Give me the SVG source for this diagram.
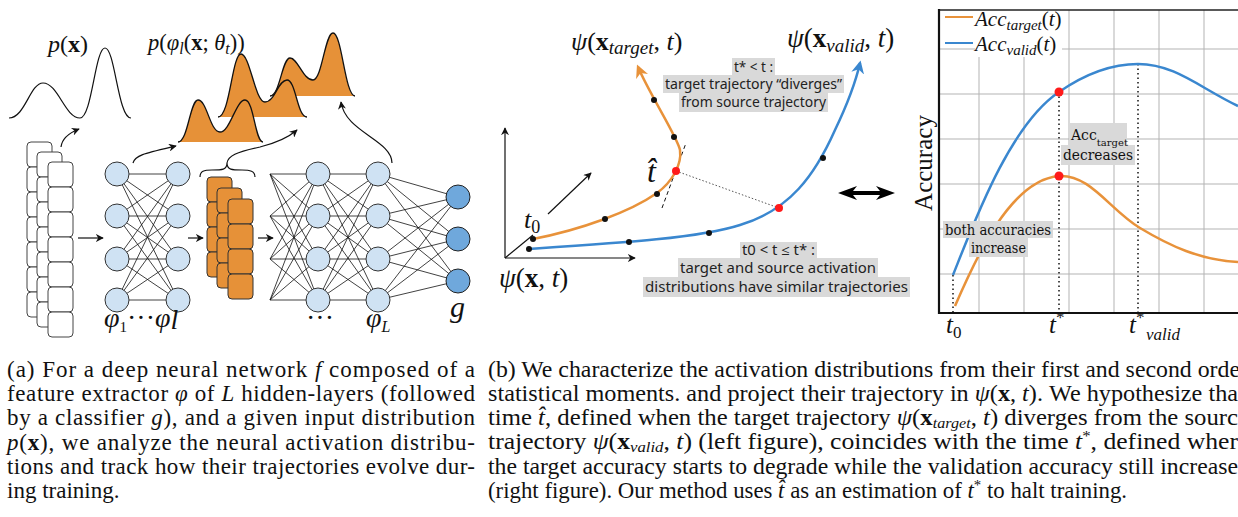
<svg xmlns="http://www.w3.org/2000/svg" width="1238" height="517" viewBox="0 0 1238 517" font-family="Liberation Serif, Times New Roman, serif">
<style>
.m{fill:#111;}
.it{font-style:italic;}
.bf{font-weight:bold;font-style:normal;}
.cap{font-size:23px;fill:#111;}
.lbl{font-size:13.5px;fill:#222;}
.clbl{font-size:14px;fill:#111;}
.gbox{fill:#d9d9d9;}
.node{fill:#cfe2f3;stroke:#333;stroke-width:1;}
.out{fill:#6fa8dc;stroke:#222;stroke-width:1;}
.edge{stroke:#111;stroke-width:0.8;fill:none;}
.cell{fill:#fff;stroke:#444;stroke-width:1;}
.ocell{fill:#E69138;stroke:#333;stroke-width:1;}
.dist{fill:#E69138;stroke:#111;stroke-width:1.3;}
.grid{stroke:#b3b3b3;stroke-width:1;fill:none;}
.dot{fill:#111;}
.red{fill:#ff1a1a;}
.ln{fill:none;stroke:#111;stroke-width:1.2;}
.orng{fill:none;stroke:#E8923A;stroke-width:2.5;}
.blu{fill:none;stroke:#3A87CF;stroke-width:2.5;}
.dotted{fill:none;stroke:#111;stroke-width:1.5;stroke-dasharray:1.5 3;}
</style>
<defs>
<marker id="mk" viewBox="0 0 10 10" refX="9" refY="5" markerWidth="8" markerHeight="8" orient="auto" markerUnits="userSpaceOnUse"><path d="M0,0 L10,5 L0,10 L3,5 Z" fill="#111"/></marker>
<marker id="mo" viewBox="0 0 10 10" refX="8" refY="5" markerWidth="13" markerHeight="13" orient="auto" markerUnits="userSpaceOnUse"><path d="M0,0 L10,5 L0,10 L3,5 Z" fill="#E8923A"/></marker>
<marker id="mb" viewBox="0 0 10 10" refX="8" refY="5" markerWidth="13" markerHeight="13" orient="auto" markerUnits="userSpaceOnUse"><path d="M0,0 L10,5 L0,10 L3,5 Z" fill="#3A87CF"/></marker>
</defs>

<!-- ============ LEFT PANEL ============ -->
<g id="px-curve">
<path class="ln" d="M9,118 C25,118 30,83 43,83 C58,83 65,118 80,118 C92,118 95,48 105,48 C115,48 118,118 131,118"/>
<text class="m" x="48" y="52" font-size="24" font-family="Liberation Serif"><tspan class="it">p</tspan>(<tspan class="bf">x</tspan>)</text>
</g>

<g id="activation-dists">
<path class="dist" d="M270,96 C280,96 282,58 290,58 C298,58 303,80 313,80 C322,80 325,33 333,33 C342,33 345,96 355,96"/>
<path class="dist" d="M218,117 C230,117 232,54 241,54 C250,54 255,102 265,102 C275,102 278,80 287,80 C296,80 297,117 307,117"/>
<path class="dist" d="M178,142 C188,142 190,100 198,100 C207,100 210,132 220,132 C230,132 236,100 245,100 C254,100 255,142 263,142"/>
<text class="m" x="148" y="50" font-size="22.5" font-family="Liberation Serif"><tspan class="it">p</tspan>(<tspan class="it">φ</tspan><tspan class="it" font-size="16" dy="4">l</tspan><tspan dy="-4">(</tspan><tspan class="bf">x</tspan>; <tspan class="it">θ</tspan><tspan class="it" font-size="16" dy="4">t</tspan><tspan dy="-4">))</tspan></text>
</g>

<g id="input-stack">
<rect class="cell" x="27" y="142" width="25" height="25" rx="4"/>
<rect class="cell" x="27" y="167" width="25" height="25" rx="4"/>
<rect class="cell" x="27" y="192" width="25" height="25" rx="4"/>
<rect class="cell" x="27" y="217" width="25" height="25" rx="4"/>
<rect class="cell" x="27" y="242" width="25" height="25" rx="4"/>
<rect class="cell" x="27" y="267" width="25" height="25" rx="4"/>
<rect class="cell" x="27" y="292" width="25" height="25" rx="4"/>
<rect class="cell" x="37" y="152" width="25" height="25" rx="4"/>
<rect class="cell" x="37" y="177" width="25" height="25" rx="4"/>
<rect class="cell" x="37" y="202" width="25" height="25" rx="4"/>
<rect class="cell" x="37" y="227" width="25" height="25" rx="4"/>
<rect class="cell" x="37" y="252" width="25" height="25" rx="4"/>
<rect class="cell" x="37" y="277" width="25" height="25" rx="4"/>
<rect class="cell" x="37" y="302" width="25" height="25" rx="4"/>
<rect class="cell" x="48" y="162" width="25" height="25" rx="4"/>
<rect class="cell" x="48" y="187" width="25" height="25" rx="4"/>
<rect class="cell" x="48" y="212" width="25" height="25" rx="4"/>
<rect class="cell" x="48" y="237" width="25" height="25" rx="4"/>
<rect class="cell" x="48" y="262" width="25" height="25" rx="4"/>
<rect class="cell" x="48" y="287" width="25" height="25" rx="4"/>
<rect class="cell" x="48" y="312" width="25" height="25" rx="4"/>
</g>

<g id="feature-map">
<rect class="ocell" x="207" y="177" width="25" height="25" rx="4"/>
<rect class="ocell" x="207" y="202" width="25" height="25" rx="4"/>
<rect class="ocell" x="207" y="227" width="25" height="25" rx="4"/>
<rect class="ocell" x="207" y="252" width="25" height="25" rx="4"/>
<rect class="ocell" x="217" y="188" width="25" height="25" rx="4"/>
<rect class="ocell" x="217" y="213" width="25" height="25" rx="4"/>
<rect class="ocell" x="217" y="238" width="25" height="25" rx="4"/>
<rect class="ocell" x="217" y="263" width="25" height="25" rx="4"/>
<rect class="ocell" x="228" y="199" width="25" height="25" rx="4"/>
<rect class="ocell" x="228" y="224" width="25" height="25" rx="4"/>
<rect class="ocell" x="228" y="249" width="25" height="25" rx="4"/>
<rect class="ocell" x="228" y="274" width="25" height="25" rx="4"/>
<path class="ln" stroke-width="1" d="M200,177 C200,171 204,170 212,170 C222,170 227,170 227,163 C227,170 232,170 242,170 C250,170 255,171 255,177"/>
</g>

<g id="connectors">
<path class="edge" d="M117 174L178 174M117 174L178 216M117 174L178 259M117 174L178 300M117 216L178 174M117 216L178 216M117 216L178 259M117 216L178 300M117 259L178 174M117 259L178 216M117 259L178 259M117 259L178 300M117 300L178 174M117 300L178 216M117 300L178 259M117 300L178 300"/>
<path class="edge" d="M270 174L318 174M270 174L318 216M270 174L318 259M270 174L318 300M270 216L318 174M270 216L318 216M270 216L318 259M270 216L318 300M270 259L318 174M270 259L318 216M270 259L318 259M270 259L318 300M270 300L318 174M270 300L318 216M270 300L318 259M270 300L318 300"/>
<path class="edge" d="M318 174L378 174M318 174L378 216M318 174L378 259M318 174L378 300M318 216L378 174M318 216L378 216M318 216L378 259M318 216L378 300M318 259L378 174M318 259L378 216M318 259L378 259M318 259L378 300M318 300L378 174M318 300L378 216M318 300L378 259M318 300L378 300"/>
<path class="edge" d="M378 174L458 197M378 174L458 239M378 174L458 281M378 216L458 197M378 216L458 239M378 216L458 281M378 259L458 197M378 259L458 239M378 259L458 281M378 300L458 197M378 300L458 239M378 300L458 281"/>
<path class="ln" marker-end="url(#mk)" d="M78,238 L103,238"/>
<path class="ln" marker-end="url(#mk)" d="M188,238 L203,238"/>
<path class="ln" marker-end="url(#mk)" d="M258,238 L273,238"/>
<path class="ln" marker-end="url(#mk)" d="M61,147 C62,138 69,133 79,129"/>
<path class="ln" marker-end="url(#mk)" d="M133,163 C135,155 146,153 176,146"/>
<path class="ln" marker-end="url(#mk)" d="M227,163 C228,156 236,152 260,147 C280,142 290,136 297,130"/>
<path class="ln" marker-end="url(#mk)" d="M392,163 C392,140 345,132 341,102"/>
</g>

<g id="layer-1">
<circle class="node" cx="117" cy="174" r="12"/><circle class="node" cx="117" cy="216" r="12"/><circle class="node" cx="117" cy="259" r="12"/><circle class="node" cx="117" cy="300" r="12"/>
</g>
<g id="layer-l">
<circle class="node" cx="178" cy="174" r="12"/><circle class="node" cx="178" cy="216" r="12"/><circle class="node" cx="178" cy="259" r="12"/><circle class="node" cx="178" cy="300" r="12"/>
</g>
<g id="layer-mid">
<circle class="node" cx="318" cy="174" r="12"/><circle class="node" cx="318" cy="216" r="12"/><circle class="node" cx="318" cy="259" r="12"/><circle class="node" cx="318" cy="300" r="12"/>
</g>
<g id="layer-L">
<circle class="node" cx="378" cy="174" r="12"/><circle class="node" cx="378" cy="216" r="12"/><circle class="node" cx="378" cy="259" r="12"/><circle class="node" cx="378" cy="300" r="12"/>
</g>
<g id="classifier-g">
<circle class="out" cx="458" cy="197" r="12"/><circle class="out" cx="458" cy="239" r="12"/><circle class="out" cx="458" cy="281" r="12"/>
</g>
<g id="net-labels" font-family="Liberation Serif">
<text class="m" x="104" y="327" font-size="28"><tspan class="it">φ</tspan><tspan font-size="15" dy="5">1</tspan><tspan dy="-5">···</tspan><tspan class="it">φ</tspan><tspan class="it" dy="2">l</tspan></text>
<text class="m" x="306" y="327" font-size="28">···</text>
<text class="m" x="366" y="327" font-size="28"><tspan class="it">φ</tspan><tspan class="it" font-size="16" dy="5">L</tspan></text>
<text class="m it" x="450" y="317" font-size="30">g</text>
</g>

<!-- ============ MIDDLE PANEL ============ -->
<g id="traj-axes">
<path class="ln" marker-end="url(#mk)" d="M505,258 L505,128"/>
<path class="ln" marker-end="url(#mk)" d="M505,258 L635,258"/>
<path class="ln" d="M505,258 L533,235"/>
<path class="ln" marker-end="url(#mk)" d="M548,214 L591,173"/>
<text class="m" x="524" y="228" font-size="26" font-family="Liberation Serif"><tspan class="it">t</tspan><tspan font-size="18" dy="5">0</tspan></text>
<text class="m" x="499" y="287" font-size="27" font-family="Liberation Serif"><tspan class="it">ψ</tspan>(<tspan class="bf">x</tspan>, <tspan class="it">t</tspan>)</text>
</g>

<g id="traj-links">
<path fill="none" stroke="#555" stroke-width="1" stroke-dasharray="1.5 2" d="M676,171 L779,208"/>
<path fill="none" stroke="#111" stroke-width="1" stroke-dasharray="4 3" d="M662,208 L686,143"/>
</g>

<g id="traj-target">
<path class="orng" marker-end="url(#mo)" d="M533,239 C580,230 630,212 657,193 C672,182 682,165 680,150 C678,138 650,95 638,67"/>
<circle class="dot" cx="533" cy="239" r="3"/>
<circle class="dot" cx="605" cy="219" r="3"/>
<circle class="dot" cx="657" cy="194" r="3"/>
<circle class="dot" cx="674" cy="137" r="3"/>
<circle class="dot" cx="654" cy="100" r="3"/>
<circle class="red" cx="676" cy="171" r="4"/>
<text class="m it" x="647" y="182" font-size="32" font-family="Liberation Serif">t̂</text>
<text class="m" x="571" y="50" font-size="26" font-family="Liberation Serif"><tspan class="it">ψ</tspan>(<tspan class="bf">x</tspan><tspan class="it" font-size="19" dy="4">target</tspan><tspan dy="-4">, </tspan><tspan class="it">t</tspan>)</text>
</g>

<g id="traj-valid">
<path class="blu" marker-end="url(#mb)" d="M529,249 C620,243 700,238 740,225 C790,210 815,175 835,130 C847,105 855,85 860,63"/>
<circle class="dot" cx="529" cy="249" r="3"/>
<circle class="dot" cx="629" cy="242" r="3"/>
<circle class="dot" cx="709" cy="233" r="3"/>
<circle class="dot" cx="823" cy="158" r="3"/>
<circle class="red" cx="779" cy="208" r="4"/>
<text class="m" x="787" y="47" font-size="27" font-family="Liberation Serif"><tspan class="it">ψ</tspan>(<tspan class="bf">x</tspan><tspan class="it" font-size="19" dy="5">valid</tspan><tspan dy="-5">, </tspan><tspan class="it">t</tspan>)</text>
</g>

<g id="note-diverge" font-family="Noto Sans, Open Sans, sans-serif">
<rect class="gbox" x="732" y="58" width="43" height="17"/>
<rect class="gbox" x="663" y="75" width="181" height="18"/>
<rect class="gbox" x="679" y="93" width="149" height="19"/>
<text class="lbl" x="753.5" y="72" text-anchor="middle">t* &lt; t :</text>
<text class="lbl" x="665" y="89" textLength="177" lengthAdjust="spacingAndGlyphs">target trajectory “diverges”</text>
<text class="lbl" x="681" y="107" textLength="145" lengthAdjust="spacingAndGlyphs">from source trajectory</text>
</g>

<g id="note-similar" font-family="Noto Sans, Open Sans, sans-serif">
<rect class="gbox" x="740" y="242" width="77" height="16"/>
<rect class="gbox" x="678" y="258" width="200" height="19"/>
<rect class="gbox" x="643" y="277" width="267" height="20"/>
<text class="lbl" x="742" y="255" textLength="73" lengthAdjust="spacingAndGlyphs">t0 &lt; t ≤ t* :</text>
<text class="lbl" x="680" y="273" textLength="196" lengthAdjust="spacingAndGlyphs">target and source activation</text>
<text class="lbl" x="645" y="292" textLength="263" lengthAdjust="spacingAndGlyphs">distributions have similar trajectories</text>
</g>

<g id="double-arrow">
<polygon fill="#000" points="838,193 857,186 853,191 880,191 876,186 895,193 876,200 880,195 853,195 857,200"/>
</g>

<!-- ============ RIGHT PANEL (chart) ============ -->
<g id="chart-grid">
<path class="grid" d="M979,57 V313 M1024,57 V313 M1069,10 V313 M1114,10 V313 M1159,10 V313 M1204,10 V313"/>
<path class="grid" d="M939,49 H975 M1062,49 H1238 M939,94 H1238 M939,139 H1238 M939,184 H1238 M939,229 H1238 M939,274 H1238"/>
</g>

<g id="chart-frame" font-family="Liberation Serif">
<path fill="none" stroke="#222" stroke-width="1.5" d="M939,10 H1238"/>
<path fill="none" stroke="#111" stroke-width="2.2" d="M939,9 V313 H1238"/>
<text class="m" font-size="25" text-anchor="middle" transform="translate(932,163) rotate(-90)">Accuracy</text>
<text class="m" x="946" y="333" font-size="25"><tspan class="it">t</tspan><tspan font-size="17" dy="5">0</tspan></text>
<text class="m" x="1049" y="333" font-size="25"><tspan class="it">t</tspan><tspan font-size="17" dy="-10">*</tspan></text>
<text class="m" x="1129" y="333" font-size="25"><tspan class="it">t</tspan><tspan font-size="17" dy="-10">*</tspan></text>
<text class="m it" x="1146" y="340" font-size="17">valid</text>
</g>

<g id="chart-markers">
<path class="dotted" d="M953,275 V313"/>
<path class="dotted" d="M1059,92 V313"/>
<path class="dotted" d="M1138,64 V313"/>
</g>

<g id="acc-valid">
<path class="blu" stroke-width="2.5" d="M953,275 C975,220 1010,125 1059,92 C1085,74 1110,64 1138,64 C1175,64 1200,88 1238,106"/>
<circle class="red" cx="1059" cy="92" r="4.5"/>
</g>

<g id="acc-target">
<path class="orng" stroke-width="2.5" d="M955,306 C975,260 1010,180 1059,176 C1090,174 1110,210 1140,228 C1170,246 1200,260 1238,262"/>
<circle class="red" cx="1059" cy="176" r="4.5"/>
</g>

<g id="chart-notes" font-family="DejaVu Serif, serif">
<rect class="gbox" x="1069" y="123" width="58" height="24"/>
<rect class="gbox" x="1061" y="145" width="74" height="20"/>
<text class="clbl" x="1071" y="140" font-size="15">Acc<tspan font-size="10" dy="6">target</tspan></text>
<text class="clbl" x="1063" y="160" font-size="15" textLength="70" lengthAdjust="spacingAndGlyphs">decreases</text>
<rect class="gbox" x="943" y="221" width="110" height="17"/>
<rect class="gbox" x="969" y="238" width="59" height="19"/>
<text class="clbl" x="945" y="235" textLength="106" lengthAdjust="spacingAndGlyphs">both accuracies</text>
<text class="clbl" x="971" y="253" textLength="55" lengthAdjust="spacingAndGlyphs">increase</text>
</g>

<g id="legend" font-family="Liberation Serif">
<path fill="none" stroke="#E8923A" stroke-width="2" d="M945,17 H973"/>
<path fill="none" stroke="#3A87CF" stroke-width="2" d="M945,43 H973"/>
<text class="m" x="975" y="26" font-size="21"><tspan class="it">Acc</tspan><tspan class="it" font-size="15" dy="4">target</tspan><tspan dy="-4">(</tspan><tspan class="it">t</tspan>)</text>
<text class="m" x="975" y="51" font-size="21"><tspan class="it">Acc</tspan><tspan class="it" font-size="15" dy="4">valid</tspan><tspan dy="-4">(</tspan><tspan class="it">t</tspan>)</text>
</g>

<!-- ============ CAPTIONS ============ -->
<g id="caption-a" font-family="Liberation Serif">
<text class="cap" x="7" y="377" textLength="468" lengthAdjust="spacing">(a) For a deep neural network <tspan class="it">f</tspan> composed of a</text>
<text class="cap" x="7" y="401" textLength="468" lengthAdjust="spacing">feature extractor <tspan class="it">φ</tspan> of <tspan class="it">L</tspan> hidden-layers (followed</text>
<text class="cap" x="7" y="425" textLength="468" lengthAdjust="spacing">by a classifier <tspan class="it">g</tspan>), and a given input distribution</text>
<text class="cap" x="7" y="450" textLength="468" lengthAdjust="spacing"><tspan class="it">p</tspan>(<tspan class="bf">x</tspan>), we analyze the neural activation distribu-</text>
<text class="cap" x="7" y="474" textLength="468" lengthAdjust="spacing">tions and track how their trajectories evolve dur-</text>
<text class="cap" x="7" y="498">ing training.</text>
</g>

<g id="caption-b" font-family="Liberation Serif">
<text class="cap" x="488" y="377" textLength="752" lengthAdjust="spacingAndGlyphs">(b) We characterize the activation distributions from their first and second orde</text>
<text class="cap" x="488" y="401" textLength="750" lengthAdjust="spacingAndGlyphs">statistical moments. and project their trajectory in <tspan class="it">ψ</tspan>(<tspan class="bf">x</tspan>, <tspan class="it">t</tspan>). We hypothesize tha</text>
<text class="cap" x="488" y="425" textLength="750" lengthAdjust="spacingAndGlyphs">time <tspan class="it">t̂</tspan>, defined when the target trajectory <tspan class="it">ψ</tspan>(<tspan class="bf">x</tspan><tspan class="it" font-size="15" dy="3">target</tspan><tspan dy="-3">, </tspan><tspan class="it">t</tspan>) diverges from the sourc</text>
<text class="cap" x="488" y="449" textLength="750" lengthAdjust="spacingAndGlyphs">trajectory <tspan class="it">ψ</tspan>(<tspan class="bf">x</tspan><tspan class="it" font-size="15" dy="3">valid</tspan><tspan dy="-3">, </tspan><tspan class="it">t</tspan>) (left figure), coincides with the time <tspan class="it">t</tspan><tspan font-size="15" dy="-8">*</tspan><tspan dy="8">, defined wher</tspan></text>
<text class="cap" x="488" y="474" textLength="750" lengthAdjust="spacingAndGlyphs">the target accuracy starts to degrade while the validation accuracy still increase</text>
<text class="cap" x="488" y="498" textLength="639" lengthAdjust="spacingAndGlyphs">(right figure). Our method uses <tspan class="it">t̂</tspan> as an estimation of <tspan class="it">t</tspan><tspan font-size="15" dy="-8">*</tspan><tspan dy="8"> to halt training.</tspan></text>
</g>
</svg>
